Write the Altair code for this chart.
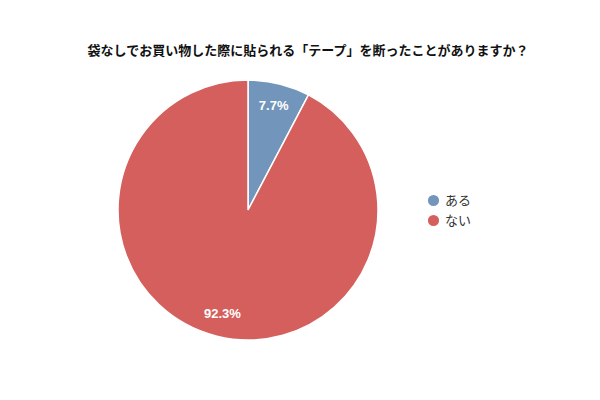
import altair as alt
import pandas as pd

categories = ["ある", "ない"]
values = [7.7, 92.3]
labels = ["7.7%", "92.3%"]
colors = ["#7295BC", "#D45F5C"]

df = pd.DataFrame({"cat": categories, "val": values, "label": labels, "ord": [0, 1]})

CX, CY = 240, 202

base = alt.Chart(df).encode(
    theta=alt.Theta("val:Q", stack=True),
    order=alt.Order("ord:Q"),
    x=alt.value(CX),
    y=alt.value(CY),
)

arcs = base.mark_arc(radius=130, stroke="white", strokeWidth=1.5).encode(
    color=alt.Color(
        "cat:N",
        scale=alt.Scale(domain=categories, range=colors),
        sort=categories,
        legend=alt.Legend(
            title=None,
            orient="none",
            legendX=418,
            legendY=185,
            symbolType="circle",
            symbolSize=160,
            labelFontSize=13,
            labelFont="Noto Sans CJK JP",
            labelColor="#333333",
            rowPadding=1,
        ),
    )
)

text = base.mark_text(
    radius=107, color="white", fontSize=13, fontWeight="bold",
    font="Liberation Sans, Noto Sans CJK JP"
).encode(text="label:N")

chart = (arcs + text).properties(
    width=584,
    height=384,
    autosize=alt.AutoSizeParams(type="none"),
    padding=0,
    title=alt.Title(
        "袋なしでお買い物した際に貼られる「テープ」を断ったことがありますか？",
        font="Noto Sans CJK JP",
        fontSize=13,
        fontWeight="bold",
        color="#111111",
        anchor="middle",
        offset=-50,
        dx=8,
    ),
).configure_view(stroke=None)

chart.save("out.html", embed_options={"renderer": "svg", "actions": False})
